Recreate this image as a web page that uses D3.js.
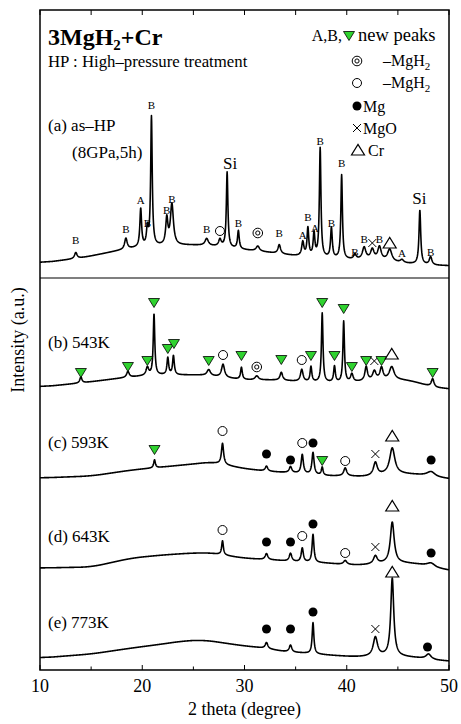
<!DOCTYPE html>
<html>
<head>
<meta charset="utf-8">
<script src="https://cdn.jsdelivr.net/npm/d3@7"></script>
<style>
  body { margin: 0; background: #fff; }
  svg text { font-family: "Liberation Serif", "Times New Roman", serif; fill: #000; }
</style>
</head>
<body>
<svg id="chart" width="461" height="724"></svg>
<script>
// ---- data (2 theta in degrees, intensity in a.u.) ----

// background control points [2theta, intensity]
const bgA = [[10,407],[14,412],[18,420],[20,423],[22,424],[25,425],[28,423],[30,420],[32,418],[35,414],[38,412],[40,410],[43,410],[45,407],[48,405],[50,404]];
const bgB = [[10,283],[14,287],[18,292],[21,295],[26,295],[30,290],[33,290],[36,288],[40,287],[42,289],[44,290],[46,290],[48,284],[50,280]];
const bgC = [[10,192],[15,194],[19,200],[22,203],[25,206],[27,208],[29,203],[31,200],[33,198],[35,197],[38,194],[40,194],[42,193],[44,196],[46,196],[48,194],[50,190]];
const bgD = [[10,102],[15,103],[19,112],[22,115],[25,117],[27,117],[29,113],[31,111],[33,110],[35,108],[38,107],[40,105],[42,105],[44,107],[46,107],[48,104],[50,98]];
const bgE = [[10,12],[15,16],[19,22],[22,26],[24,29],[26,30],[28,27],[30,24],[32,22],[34,18],[36,17],[38,15],[41,13],[44,14],[46,13],[48,11],[50,8]];

// peaks [2theta, height, fwhm]
const peaksA = [[13.5,6,0.3],[18.4,11,0.3],[19.85,38,0.2],[20.5,17,0.2],[20.9,129,0.18],[22.4,26,0.25],[22.9,41,0.35],
  [26.3,7,0.4],[27.6,7,0.3],[28.3,75,0.18],[29.4,18,0.2],[31.3,5,0.4],[33.4,9,0.3],[35.7,14,0.25],[36.2,28,0.2],
  [36.8,23,0.2],[37.4,109,0.18],[38.5,30,0.2],[39.5,84,0.18],[40.8,5,0.3],[41.7,12,0.4],[42.5,10,0.4],[43.2,13,0.4],
  [44.2,12,0.5],[45.4,3,0.4],[47.15,54,0.2],[48.2,8,0.3]];
const peaksB = [[14.0,6,0.25],[18.6,6,0.3],[20.5,8,0.3],[21.15,61,0.18],[22.5,17,0.2],[23.05,19,0.2],[26.5,6,0.4],
  [27.9,13,0.35],[29.7,12,0.2],[31.2,4,0.4],[33.6,8,0.3],[35.6,12,0.3],[36.5,15,0.2],[37.6,69,0.18],[38.8,16,0.2],
  [39.7,61,0.18],[40.5,8,0.3],[41.9,14,0.3],[42.7,9,0.4],[43.4,12,0.35],[44.4,13,0.55],[48.4,8,0.3]];
const peaksC = [[21.2,8,0.2],[27.85,21,0.25],[32.15,5,0.3],[34.5,6,0.3],[35.65,19,0.25],[36.7,22,0.25],[37.6,8,0.2],
  [39.85,8,0.35],[42.8,13,0.45],[44.45,26,0.6],[48.25,5,1.0]];
const peaksD = [[27.85,14,0.2],[32.15,6,0.3],[34.5,8,0.3],[35.65,14,0.25],[36.7,28,0.22],[39.85,4,0.4],[42.8,8,0.45],
  [44.45,41,0.45],[48.25,4,1.0]];
const peaksE = [[32.15,6,0.3],[34.5,7,0.3],[36.7,31,0.2],[42.8,19,0.5],[44.45,78,0.35],[48.0,5,0.6]];

// peak markers [2theta, kind, intensity level]
const marksA = [[13.5,"B",430],[18.4,"B",441],[19.85,"A",470],[20.5,"B",447],[20.9,"B",565],[22.4,"B",460],[22.9,"B",471],
  [26.3,"B",441],[27.6,"open",439],[28.6,"Si",507],[29.4,"B",447],[31.3,"double",437],[33.4,"B",437],[35.7,"A",435],
  [36.2,"B",453],[36.9,"A",442],[37.4,"B",529],[38.5,"B",447],[39.5,"B",507],[40.8,"B",418],[41.7,"B",431],
  [42.5,"cross",427],[43.2,"B",431],[44.2,"delta",427],[45.4,"A",417],[47.1,"Si",472],[48.2,"B",418]];
const marksB = [[14.0,"tri",297],[18.6,"tri",303],[20.5,"tri",309],[21.15,"tri",367],[22.5,"tri",321],[23.1,"tri",326],
  [26.5,"tri",309],[27.9,"open",315],[29.7,"tri",314],[31.2,"double",303],[33.6,"tri",310],[35.6,"open",310],
  [36.5,"tri",314],[37.6,"tri",367],[38.8,"tri",314],[39.7,"tri",361],[40.5,"tri",303],[41.9,"tri",309],
  [42.7,"cross",309],[43.4,"tri",309],[44.4,"delta",316],[48.4,"tri",297]];
const marksC = [[21.2,"tri",220],[27.85,"open",239],[32.15,"filled",216],[34.5,"filled",210],[35.65,"open",227],
  [36.7,"filled",227],[37.6,"tri",209],[39.85,"open",209],[42.8,"cross",216],[44.45,"delta",234],[48.25,"filled",210]];
const marksD = [[27.85,"open",140],[32.15,"filled",128],[34.5,"filled",128],[35.65,"open",134],[36.7,"filled",146],
  [39.85,"open",117],[42.8,"cross",123],[44.45,"delta",164],[48.25,"filled",117]];
const marksE = [[32.15,"filled",41],[34.5,"filled",41],[36.7,"filled",58],[42.8,"cross",41],[44.45,"delta",98],[47.9,"filled",23]];

const traces = [
  { bg: bgA, peaks: peaksA, marks: marksA },
  { bg: bgB, peaks: peaksB, marks: marksB },
  { bg: bgC, peaks: peaksC, marks: marksC },
  { bg: bgD, peaks: peaksD, marks: marksD },
  { bg: bgE, peaks: peaksE, marks: marksE }
];

const majorTicks = [10, 20, 30, 40, 50];
const minorTicks = [15, 25, 35, 45];

// ---- layout ----
const svg = d3.select("#chart");
const L = 40, R = 449, T = 10, B = 670;
const x = d3.scaleLinear().domain([10, 50]).range([L, R]);
const y = d3.scaleLinear().domain([0, 660]).range([B, T]);
const GREEN = "#2fd22f";

svg.append("clipPath").attr("id", "plot").append("rect")
  .attr("x", L).attr("y", T).attr("width", R - L).attr("height", B - T);

// traces
const line = d3.line().x(d => x(d[0])).y(d => y(d[1]));
const samples = d3.range(10, 50.0001, 0.02);

traces.forEach(tr => {
  const bgScale = d3.scaleLinear().domain(tr.bg.map(d => d[0])).range(tr.bg.map(d => d[1]));
  const raw = samples.map(t => bgScale(t));
  // soften the corners between background control points
  const bg = raw.map((_, i) => d3.mean(raw.slice(Math.max(0, i - 60), i + 61)));
  const pts = samples.map((t, i) => {
    let v = bg[i];
    tr.peaks.forEach(([c, h, w]) => {
      const u = (t - c) / (w / 2);
      v += h / (1 + u * u);
    });
    return [t, v];
  });
  svg.append("path")
    .attr("clip-path", "url(#plot)")
    .attr("d", line(pts))
    .attr("fill", "none")
    .attr("stroke", "#000")
    .attr("stroke-width", 1.6)
    .attr("stroke-linejoin", "round");
});

// marker drawing
function drawMark(g, kind, cx, cy) {
  if (kind === "tri") {
    g.append("path").attr("d", `M${cx - 5.5},${cy - 4.5}L${cx + 5.5},${cy - 4.5}L${cx},${cy + 4.5}Z`)
      .attr("fill", GREEN).attr("stroke", "#000").attr("stroke-width", 0.8);
  } else if (kind === "open") {
    g.append("circle").attr("cx", cx).attr("cy", cy).attr("r", 4.5)
      .attr("fill", "#fff").attr("stroke", "#000").attr("stroke-width", 1);
  } else if (kind === "filled") {
    g.append("circle").attr("cx", cx).attr("cy", cy).attr("r", 4.5).attr("fill", "#000");
  } else if (kind === "double") {
    g.append("circle").attr("cx", cx).attr("cy", cy).attr("r", 4.8)
      .attr("fill", "#fff").attr("stroke", "#000").attr("stroke-width", 1);
    g.append("circle").attr("cx", cx).attr("cy", cy).attr("r", 2.1)
      .attr("fill", "none").attr("stroke", "#000").attr("stroke-width", 1);
  } else if (kind === "cross") {
    g.append("path").attr("d", `M${cx - 4},${cy - 4}L${cx + 4},${cy + 4}M${cx + 4},${cy - 4}L${cx - 4},${cy + 4}`)
      .attr("stroke", "#000").attr("stroke-width", 1);
  } else if (kind === "delta") {
    g.append("path").attr("d", `M${cx - 6.5},${cy + 5}L${cx + 6.5},${cy + 5}L${cx},${cy - 5.5}Z`)
      .attr("fill", "#fff").attr("stroke", "#000").attr("stroke-width", 1.2);
  } else {
    g.append("text").attr("x", cx).attr("y", cy)
      .attr("text-anchor", "middle").attr("dominant-baseline", "central")
      .attr("font-size", kind === "Si" ? 17 : 11)
      .text(kind);
  }
}

const markG = svg.append("g");
traces.forEach(tr => tr.marks.forEach(([t, kind, v]) => drawMark(markG, kind, x(t), y(v))));

// frame
svg.append("rect").attr("x", L).attr("y", T).attr("width", R - L).attr("height", B - T)
  .attr("fill", "none").attr("stroke", "#000").attr("stroke-width", 1.5);
svg.append("line").attr("x1", L).attr("x2", R).attr("y1", 278).attr("y2", 278)
  .attr("stroke", "#000").attr("stroke-width", 1.2);

// ticks (inward, bottom and top)
const tickG = svg.append("g").attr("stroke", "#000").attr("stroke-width", 1);
majorTicks.concat(minorTicks).forEach(t => {
  const len = majorTicks.includes(t) ? 5 : 3.5;
  tickG.append("line").attr("x1", x(t)).attr("x2", x(t)).attr("y1", B).attr("y2", B - len);
  tickG.append("line").attr("x1", x(t)).attr("x2", x(t)).attr("y1", T).attr("y2", T + 5);
});
majorTicks.forEach(t => {
  svg.append("text").attr("x", x(t)).attr("y", 692).attr("text-anchor", "middle")
    .attr("font-size", 18).text(t);
});

// axis titles
svg.append("text").attr("x", x(30)).attr("y", 715).attr("text-anchor", "middle")
  .attr("font-size", 18).text("2 theta (degree)");
svg.append("text").attr("transform", "translate(24,340) rotate(-90)").attr("text-anchor", "middle")
  .attr("font-size", 18).text("Intensity (a.u.)");

// title
const title = svg.append("text").attr("x", 48).attr("y", 45).attr("font-size", 24).attr("font-weight", "bold");
title.append("tspan").text("3MgH");
title.append("tspan").attr("font-size", 15).attr("dy", 5).text("2");
title.append("tspan").attr("dy", -5).text("+Cr");
svg.append("text").attr("x", 48).attr("y", 67).attr("font-size", 16.8).text("HP : High\u2013pressure treatment");

// panel labels
[["(a) as\u2013HP", 48, 131], ["(8GPa,5h)", 72, 158], ["(b) 543K", 48, 348],
 ["(c) 593K", 48, 448], ["(d) 643K", 48, 542], ["(e) 773K", 48, 628]].forEach(([s, px, py]) => {
  svg.append("text").attr("x", px).attr("y", py).attr("font-size", 17).text(s);
});

// legend
const lg = svg.append("g").attr("font-size", 16);
lg.append("text").attr("x", 342).attr("y", 41).attr("text-anchor", "end").text("A,B,");
drawMark(lg, "tri", 349, 36);
lg.append("text").attr("x", 358).attr("y", 41).attr("font-size", 18.5).text("new peaks");
[["double", 61], ["open", 83]].forEach(([k, ry]) => {
  drawMark(lg, k, 357, ry);
  const t = lg.append("text").attr("x", 383).attr("y", ry + 5);
  t.append("tspan").text("\u2013MgH");
  t.append("tspan").attr("font-size", 11).attr("dy", 4).text("2");
});
drawMark(lg, "filled", 357, 106);
lg.append("text").attr("x", 363).attr("y", 112).text("Mg");
drawMark(lg, "cross", 357, 128);
lg.append("text").attr("x", 363).attr("y", 134).text("MgO");
drawMark(lg, "delta", 358, 150);
lg.append("text").attr("x", 368).attr("y", 156).text("Cr");
</script>
</body>
</html>
